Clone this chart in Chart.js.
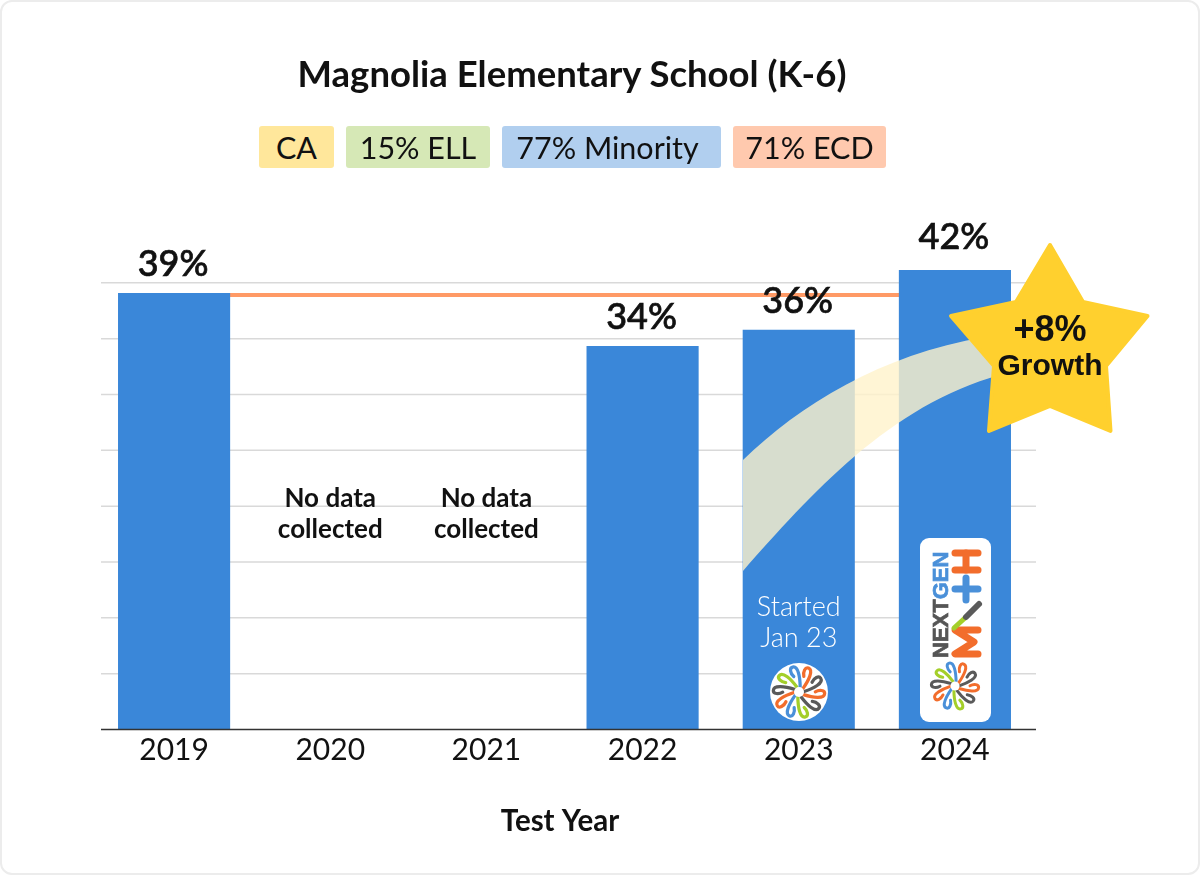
<!DOCTYPE html>
<html>
<head>
<meta charset="utf-8">
<title>Magnolia Elementary School (K-6)</title>
<script src="https://cdn.jsdelivr.net/npm/chart.js@4"></script>
<style>
    html, body { margin: 0; padding: 0; background: #fff; }
    body { width: 1200px; height: 875px; position: relative; overflow: hidden; font-family: Lato, sans-serif; }
    .card { position: absolute; left: 0; top: 0; width: 1196px; height: 871px; border: 2px solid #ececec; border-radius: 12px; }
    canvas { position: absolute; left: 0; top: 0; }
    h1 { position: absolute; left: 0; width: 1144px; top: 51px; margin: 0; text-align: center; font-size: 36.5px; line-height: 44px; font-weight: 700; color: #111; }
    .chip { position: absolute; top: 126px; height: 42px; line-height: 43px; text-align: center; font-size: 30.5px; color: #111; border-radius: 3px; box-sizing: border-box; white-space: nowrap; }
</style>
</head>
<body>
<div class="card"></div>
<canvas id="chart" width="1200" height="875"></canvas>
<h1>Magnolia Elementary School (K-6)</h1>
<div id="chips"></div>
<script>
const years = ['2019', '2020', '2021', '2022', '2023', '2024'];
const barValues = [39.1, null, null, 34.35, 35.8, 41.15];
const barLabels = ['39%', null, null, '34%', '36%', '42%'];
const referenceLine = [38.9, 38.9, 38.9, 38.9, 38.9, 38.9];
const chipLabels = ['CA', '15% ELL', '77% Minority', '71% ECD'];
const chipColors = ['#ffe79b', '#d6e8b6', '#b1cfef', '#ffc9ae'];
const chipLefts = [259, 346, 502, 733];
const chipWidths = [75, 144, 219, 153];

chipLabels.forEach((label, i) => {
    const chip = document.createElement('div');
    chip.className = 'chip';
    chip.textContent = label;
    chip.style.left = chipLefts[i] + 'px';
    chip.style.width = chipWidths[i] + 'px';
    chip.style.background = chipColors[i];
    if (i === 2) chip.style.paddingRight = '8px';
    document.getElementById('chips').appendChild(chip);
});

const text = (ctx, str, x, y, font, color) => {
    ctx.font = font;
    ctx.fillStyle = color;
    ctx.textAlign = 'center';
    ctx.textBaseline = 'alphabetic';
    ctx.fillText(str, x, y);
};

// little loop flower used in both logos
const drawFlower = (ctx, cx, cy, r) => {
    const colors = ['#f26d2c', '#5a5a5a', '#a4cf2a', '#4a90d9'];
    ctx.save();
    ctx.translate(cx, cy);
    ctx.lineWidth = r * 0.13;
    ctx.lineCap = 'round';
    for (let i = 0; i < 10; i++) {
        ctx.save();
        ctx.rotate(i * Math.PI / 5 + 0.3);
        ctx.strokeStyle = colors[i % 4];
        ctx.beginPath();
        ctx.moveTo(r * 0.2, r * 0.05);
        ctx.bezierCurveTo(r * 0.6, r * 0.05, r * 1.05, -r * 0.02, r * 1.0, -r * 0.24);
        ctx.bezierCurveTo(r * 0.97, -r * 0.38, r * 0.75, -r * 0.34, r * 0.62, -r * 0.2);
        ctx.stroke();
        ctx.restore();
    }
    ctx.fillStyle = '#fff';
    ctx.beginPath();
    ctx.arc(0, 0, r * 0.2, 0, Math.PI * 2);
    ctx.fill();
    ctx.restore();
};

const drawBand = (ctx) => {
    ctx.save();
    ctx.fillStyle = 'rgba(255, 242, 202, 0.8)';
    ctx.beginPath();
    ctx.moveTo(743, 460);
    ctx.bezierCurveTo(800, 405, 880, 355, 985, 337);
    ctx.lineTo(1000, 375);
    ctx.bezierCurveTo(890, 405, 810, 495, 743, 571);
    ctx.closePath();
    ctx.fill();
    ctx.restore();
};

const drawStar = (ctx) => {
    const pts = [[1050, 245], [1083, 302], [1147.5, 316], [1106, 366], [1110.5, 431],
                 [1050, 406], [989, 431], [994, 366], [951, 316], [1016, 302]];
    ctx.save();
    ctx.fillStyle = '#ffd02e';
    ctx.strokeStyle = '#ffd02e';
    ctx.lineWidth = 4;
    ctx.lineJoin = 'round';
    ctx.beginPath();
    pts.forEach((p, i) => i ? ctx.lineTo(p[0], p[1]) : ctx.moveTo(p[0], p[1]));
    ctx.closePath();
    ctx.fill();
    ctx.stroke();
    ctx.restore();
    text(ctx, '+8%', 1050, 341, 'bold 36px "Liberation Sans"', '#111');
    text(ctx, 'Growth', 1050, 375, 'bold 30px "Liberation Sans"', '#111');
};

const drawNextGenLogo = (ctx) => {
    ctx.fillStyle = '#fff';
    ctx.beginPath();
    ctx.roundRect(920, 538, 71, 184, 9);
    ctx.fill();

    ctx.save();
    ctx.translate(948, 658);
    ctx.rotate(-Math.PI / 2);
    ctx.textAlign = 'left';
    ctx.textBaseline = 'alphabetic';
    ctx.font = 'bold 22px "Liberation Sans"';
    ctx.lineWidth = 0.7;
    ctx.fillStyle = ctx.strokeStyle = '#555';
    ctx.fillText('NEXT', 0, 0);
    ctx.strokeText('NEXT', 0, 0);
    const nextWidth = ctx.measureText('NEXT').width;
    ctx.fillStyle = ctx.strokeStyle = '#4a90d9';
    ctx.fillText('GEN', nextWidth, 0);
    ctx.strokeText('GEN', nextWidth, 0);
    ctx.restore();

    const stroke = (color, width, pts) => {
        ctx.strokeStyle = color;
        ctx.lineWidth = width;
        ctx.beginPath();
        pts.forEach((p, i) => i ? ctx.lineTo(p[0], p[1]) : ctx.moveTo(p[0], p[1]));
        ctx.stroke();
    };
    ctx.save();
    ctx.lineCap = 'round';
    ctx.lineJoin = 'round';
    stroke('#f26d2c', 7, [[978, 630], [955, 630], [974, 642], [955, 654], [978, 654]]);
    stroke('#a4cf2a', 5, [[954, 628], [966, 617]]);
    stroke('#5a5a5a', 6, [[966, 617], [979, 604]]);
    stroke('#4a90d9', 7, [[955, 589], [978, 589]]);
    stroke('#4a90d9', 7, [[966, 578], [966, 600]]);
    stroke('#f26d2c', 7, [[955, 553], [978, 553]]);
    stroke('#f26d2c', 7, [[955, 570], [978, 570]]);
    stroke('#f26d2c', 7, [[966, 553], [966, 570]]);
    ctx.restore();

    drawFlower(ctx, 955, 686, 23);
};

// gridlines run a little right of the category band, so they are drawn here
const gridPlugin = {
    id: 'gridLines',
    beforeDatasetsDraw(chart) {
        const ctx = chart.ctx;
        const y = chart.scales.y;
        ctx.save();
        ctx.strokeStyle = '#d9d9d9';
        ctx.lineWidth = 1.5;
        y.ticks.forEach((tick) => {
            if (tick.value === 0) return;
            const py = y.getPixelForValue(tick.value);
            ctx.beginPath();
            ctx.moveTo(101, py);
            ctx.lineTo(1036, py);
            ctx.stroke();
        });
        ctx.restore();
    }
};

const overlayPlugin = {
    id: 'overlay',
    afterDatasetsDraw(chart) {
        const ctx = chart.ctx;
        const bars = chart.getDatasetMeta(0).data;
        const baseY = chart.scales.y.getPixelForValue(0);

        ctx.save();
        ctx.strokeStyle = '#333';
        ctx.lineWidth = 1.5;
        ctx.beginPath();
        ctx.moveTo(101, baseY);
        ctx.lineTo(1036, baseY);
        ctx.stroke();
        ctx.restore();

        drawBand(ctx);

        barLabels.forEach((label, i) => {
            if (!label) return;
            const gap = i === 5 ? 21 : 17;
            const x = bars[i].x - 1;
            const y = bars[i].y - gap;
            text(ctx, label, x, y, '500 36px Lato', '#111');
            ctx.strokeStyle = '#111';
            ctx.lineWidth = 0.7;
            ctx.strokeText(label, x, y);
        });

        [1, 2].forEach((i) => {
            text(ctx, 'No data', bars[i].x, 507, 'bold 26px Lato', '#111');
            text(ctx, 'collected', bars[i].x, 538, 'bold 26px Lato', '#111');
        });

        text(ctx, 'Started', bars[4].x, 616, '300 27px Lato', '#fff');
        text(ctx, 'Jan 23', bars[4].x, 647, '300 27px Lato', '#fff');

        ctx.fillStyle = '#fff';
        ctx.beginPath();
        ctx.arc(799, 692, 29, 0, Math.PI * 2);
        ctx.fill();
        drawFlower(ctx, 799, 692, 25);

        drawNextGenLogo(ctx);
        drawStar(ctx);

        text(ctx, 'Test Year', 560, 831, 'bold 29.5px Lato', '#111');
    }
};

new Chart(document.getElementById('chart'), {
    type: 'bar',
    data: {
        labels: years,
        datasets: [
            {
                type: 'bar',
                data: barValues,
                backgroundColor: '#3a87d9',
                barPercentage: 0.718,
                categoryPercentage: 1,
                order: 1
            },
            {
                type: 'line',
                data: referenceLine,
                borderColor: '#ff9a66',
                borderWidth: 4,
                pointRadius: 0,
                order: 2
            }
        ]
    },
    options: {
        responsive: false,
        animation: false,
        layout: { padding: { left: 96, right: 167, top: 260.5, bottom: 85.5 } },
        plugins: { legend: { display: false }, title: { display: false }, tooltip: { enabled: false } },
        scales: {
            x: {
                afterFit: (scale) => { scale.height = 60; },
                grid: { display: false, drawTicks: false },
                border: { display: false },
                ticks: { color: '#111', font: { family: 'Lato', size: 30 }, padding: 3, maxRotation: 0 }
            },
            y: {
                min: 0,
                max: 42,
                afterFit: (scale) => { scale.width = 0; },
                grid: { display: false },
                border: { display: false },
                ticks: { display: false, stepSize: 5, includeBounds: false }
            }
        }
    },
    plugins: [gridPlugin, overlayPlugin]
});
</script>
</body>
</html>
